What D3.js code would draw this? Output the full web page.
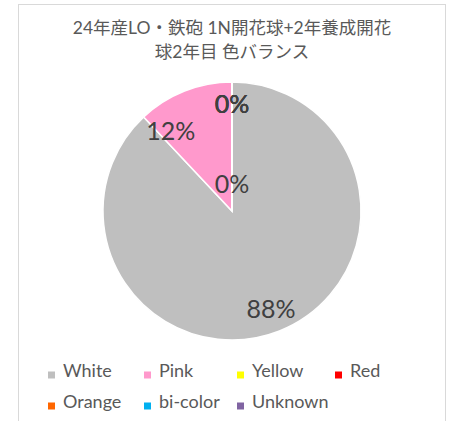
<!DOCTYPE html>
<html>
<head>
<meta charset="utf-8">
<script src="https://cdn.jsdelivr.net/npm/d3@7"></script>
<style>
  body { margin: 0; background: #fff; }
  text { font-family: Lato, "Noto Sans CJK JP", sans-serif; }
</style>
</head>
<body>
<div id="chart"></div>
<script>
var w = 463;
var h = 421;

// data (percent of bulbs)
var categories = ["White", "Pink", "Yellow", "Red", "Orange", "bi-color", "Unknown"];
var values = [88, 12, 0, 0, 0, 0, 0];
var colors = ["#BFBFBF", "#FF99CC", "#FFFF00", "#FF0000", "#FF6600", "#00B0F0", "#8064A2"];
var titleLines = ["24年産LO・鉄砲 1N開花球+2年養成開花", "球2年目 色バランス"];

var cx = 232, cy = 211, radius = 129;

var svg = d3.select("#chart")
    .append("svg")
    .attr("width", w)
    .attr("height", h);

// chart frame
svg.append("rect")
    .attr("x", 18.5)
    .attr("y", 4.5)
    .attr("width", 427)
    .attr("height", 430)
    .attr("fill", "#fff")
    .attr("stroke", "#d9d9d9")
    .attr("stroke-width", 1);

// title
svg.selectAll(".title")
    .data(titleLines)
    .enter()
    .append("text")
    .attr("class", "title")
    .attr("x", cx)
    .attr("y", function(d, i) { return 34 + i * 24; })
    .attr("text-anchor", "middle")
    .attr("fill", "#595959")
    .style("font-size", "17.5px")
    .text(function(d) { return d; });

var color = d3.scaleOrdinal().domain(categories).range(colors);

var pie = d3.pie()
    .sort(null)
    .value(function(d) { return d.value; });

var dataset = categories.map(function(c, i) { return { name: c, value: values[i] }; });
var arcs = pie(dataset);

var arc = d3.arc().innerRadius(0).outerRadius(radius);

var g = svg.append("g")
    .attr("transform", "translate(" + cx + "," + cy + ")");

g.selectAll("path")
    .data(arcs)
    .enter()
    .append("path")
    .attr("d", arc)
    .attr("fill", function(d) { return color(d.data.name); })
    .attr("stroke", "#fff")
    .attr("stroke-width", 1.5);

var total = d3.sum(values);

// label placement roughly like Excel's "best fit"
function labelPos(d, i) {
    var a, r;
    if (d.data.value === 0) {
        a = d.startAngle;
        r = (i === arcs.length - 1) ? radius * 0.21 : radius * 0.83;
    } else if (d.data.value / total < 0.2) {
        a = d.startAngle + 0.1;
        r = radius * 0.78;
    } else {
        a = (d.startAngle + d.endAngle) / 2;
        r = radius * 0.82;
    }
    return [Math.sin(a) * r, -Math.cos(a) * r];
}

g.selectAll(".lbl")
    .data(arcs)
    .enter()
    .append("text")
    .attr("class", "lbl")
    .attr("transform", function(d, i) { return "translate(" + labelPos(d, i) + ")"; })
    .attr("text-anchor", "middle")
    .attr("dy", "0.35em")
    .attr("fill", "#404040")
    .style("font-size", "25px")
    .text(function(d) { return Math.round(d.data.value / total * 100) + "%"; });

// legend
var colX = [48, 144, 237, 335];
var legend = svg.selectAll(".leg")
    .data(categories)
    .enter()
    .append("g")
    .attr("class", "leg")
    .attr("transform", function(d, i) {
        return "translate(" + colX[i % 4] + "," + (371 + Math.floor(i / 4) * 31) + ")";
    });

legend.append("rect")
    .attr("x", 0)
    .attr("y", 0.5)
    .attr("width", 7)
    .attr("height", 7)
    .attr("fill", function(d) { return color(d); });

legend.append("text")
    .attr("x", 15)
    .attr("y", 0)
    .attr("dy", "0.35em")
    .attr("fill", "#595959")
    .style("font-size", "18px")
    .text(function(d) { return d; });
</script>
</body>
</html>
